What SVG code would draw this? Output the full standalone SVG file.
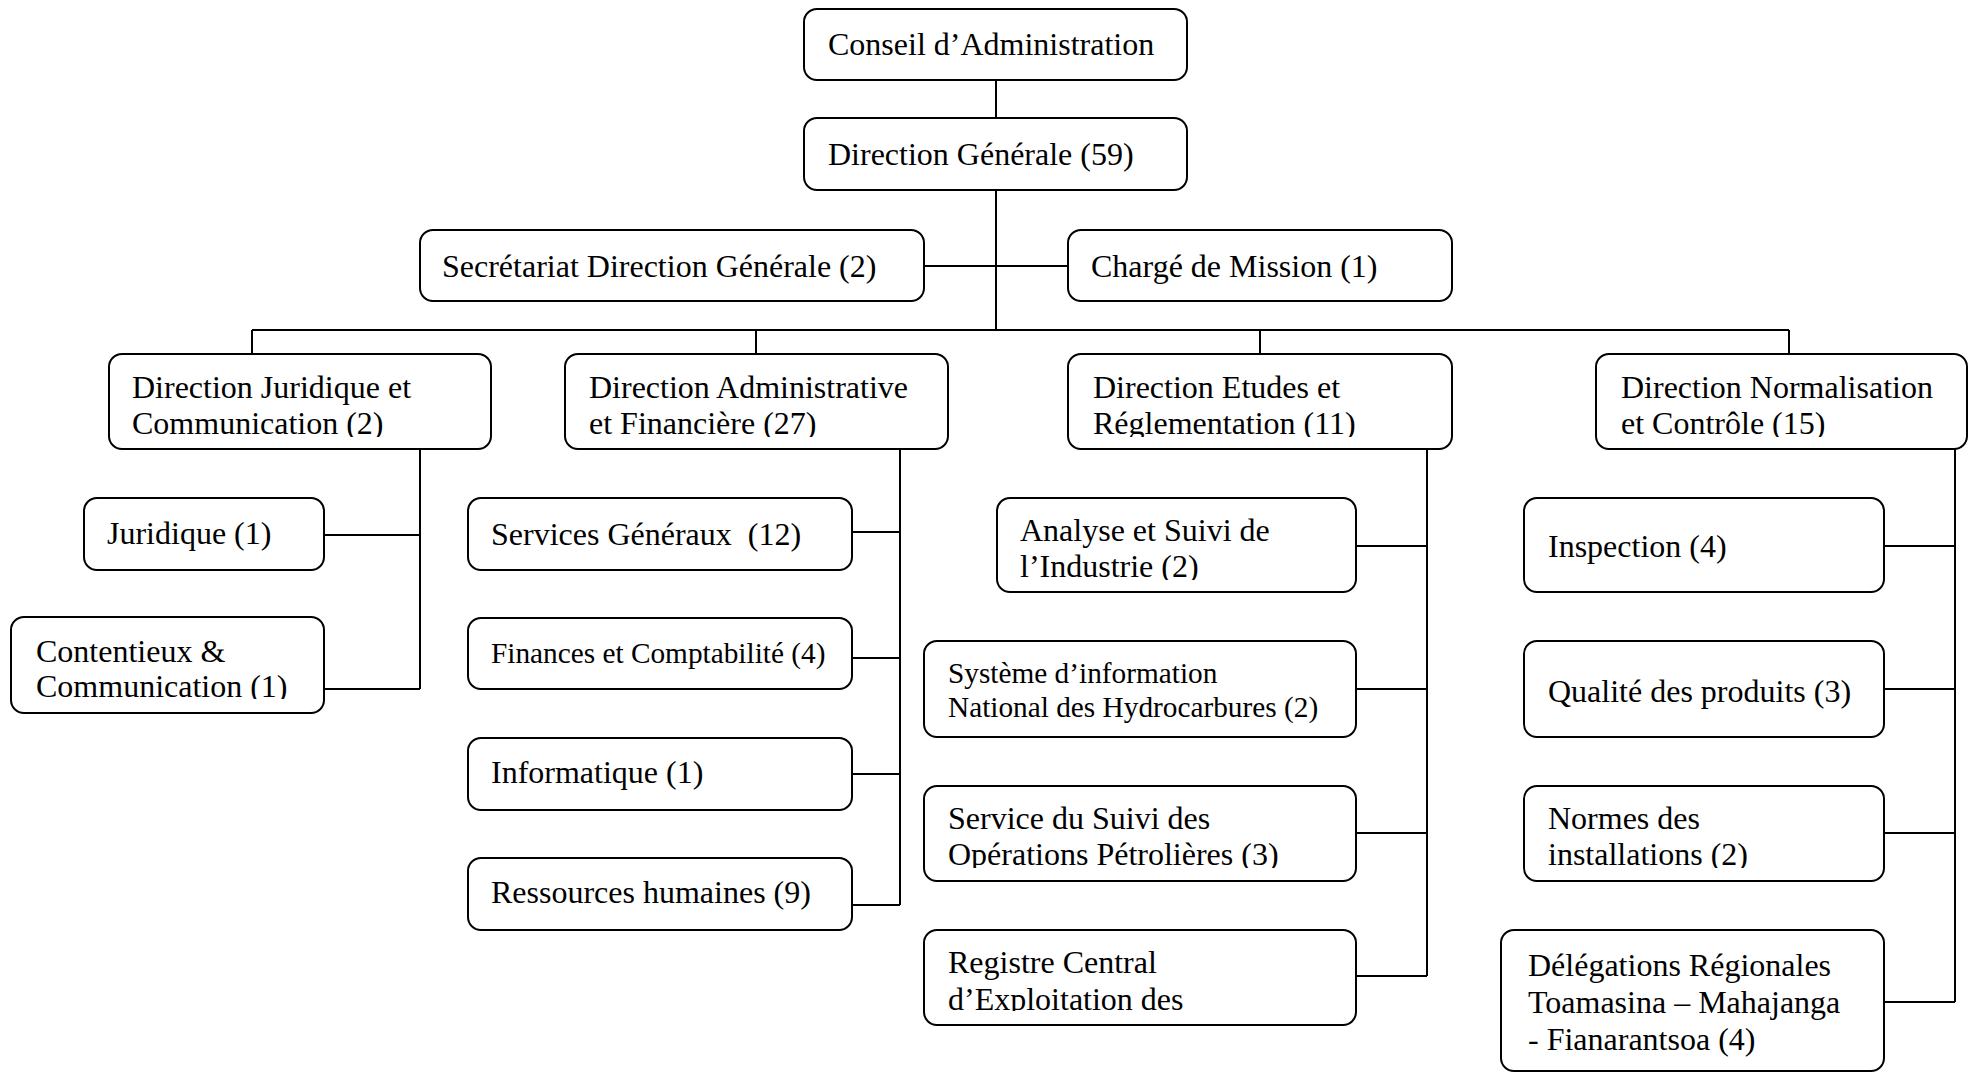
<svg xmlns="http://www.w3.org/2000/svg" width="1968" height="1072" viewBox="0 0 1968 1072">
<style>
  .box{fill:#fff;stroke:#000;stroke-width:2}
  .t{font-family:"Liberation Serif","Times New Roman",serif;font-size:32px;fill:#000}
  .s{font-size:29.3px}
  .c{stroke:#000;stroke-width:2;fill:none}
</style>
<defs>
  <clipPath id="cDJ"><rect x="109" y="354" width="382" height="83"/></clipPath>
  <clipPath id="cDA"><rect x="565" y="354" width="383" height="83"/></clipPath>
  <clipPath id="cDE"><rect x="1068" y="354" width="384" height="83"/></clipPath>
  <clipPath id="cDN"><rect x="1596" y="354" width="372" height="83"/></clipPath>
  <clipPath id="cCo"><rect x="11" y="617" width="313" height="82"/></clipPath>
  <clipPath id="cAn"><rect x="997" y="498" width="359" height="82"/></clipPath>
  <clipPath id="cSu"><rect x="924" y="786" width="432" height="82"/></clipPath>
  <clipPath id="cRe"><rect x="924" y="930" width="432" height="81"/></clipPath>
  <clipPath id="cNo"><rect x="1524" y="786" width="360" height="82"/></clipPath>
</defs>
<g id="connectors">
  <path class="c" d="M996 80V118"/>
  <path class="c" d="M996 190V330"/>
  <path class="c" d="M924 266H1068"/>
  <path class="c" d="M252 330H1789"/>
  <path class="c" d="M252 330V354M756 330V354M1260 330V354M1789 330V354"/>
  <path class="c" d="M420 449V689M324 535H420M324 689H420"/>
  <path class="c" d="M900 449V905M852 532H900M852 658H900M852 774H900M852 905H900"/>
  <path class="c" d="M1427 449V976M1356 546H1427M1356 689H1427M1356 833H1427M1356 976H1427"/>
  <path class="c" d="M1955 449V1002M1884 546H1955M1884 689H1955M1884 833H1955M1884 1002H1955"/>
</g>
<g id="conseil"><rect class="box" x="804" y="9" width="383" height="71" rx="13"/><text class="t" x="828" y="55">Conseil d’Administration</text></g>
<g id="direction-generale"><rect class="box" x="804" y="118" width="383" height="72" rx="13"/><text class="t" x="828" y="165">Direction Générale (59)</text></g>
<g id="secretariat"><rect class="box" x="420" y="230" width="504" height="71" rx="13"/><text class="t" x="442" y="277">Secrétariat Direction Générale (2)</text></g>
<g id="charge-mission"><rect class="box" x="1068" y="230" width="384" height="71" rx="13"/><text class="t" x="1091" y="277">Chargé de Mission (1)</text></g>
<g id="dir-juridique"><rect class="box" x="109" y="354" width="382" height="95" rx="13"/><text class="t" clip-path="url(#cDJ)"><tspan x="132" y="398">Direction Juridique et</tspan><tspan x="132" y="434">Communication (2)</tspan></text></g>
<g id="dir-admin"><rect class="box" x="565" y="354" width="383" height="95" rx="13"/><text class="t" clip-path="url(#cDA)"><tspan x="589" y="398">Direction Administrative</tspan><tspan x="589" y="434">et Financière (27)</tspan></text></g>
<g id="dir-etudes"><rect class="box" x="1068" y="354" width="384" height="95" rx="13"/><text class="t" clip-path="url(#cDE)"><tspan x="1093" y="398">Direction Etudes et</tspan><tspan x="1093" y="434">Réglementation (11)</tspan></text></g>
<g id="dir-normalisation"><rect class="box" x="1596" y="354" width="371" height="95" rx="13"/><text class="t" clip-path="url(#cDN)"><tspan x="1621" y="398">Direction Normalisation</tspan><tspan x="1621" y="434">et Contrôle (15)</tspan></text></g>
<g id="juridique"><rect class="box" x="84" y="498" width="240" height="72" rx="13"/><text class="t" x="107" y="544">Juridique (1)</text></g>
<g id="contentieux"><rect class="box" x="11" y="617" width="313" height="96" rx="13"/><text class="t" clip-path="url(#cCo)"><tspan x="36" y="662">Contentieux &amp;</tspan><tspan x="36" y="697">Communication (1)</tspan></text></g>
<g id="services-generaux"><rect class="box" x="468" y="498" width="384" height="72" rx="13"/><text class="t" x="491" y="545" xml:space="preserve">Services Généraux  (12)</text></g>
<g id="finances"><rect class="box" x="468" y="618" width="384" height="71" rx="13"/><text class="t s" x="491" y="663">Finances et Comptabilité (4)</text></g>
<g id="informatique"><rect class="box" x="468" y="738" width="384" height="72" rx="13"/><text class="t" x="491" y="783">Informatique (1)</text></g>
<g id="ressources"><rect class="box" x="468" y="858" width="384" height="72" rx="13"/><text class="t" x="491" y="903">Ressources humaines (9)</text></g>
<g id="analyse"><rect class="box" x="997" y="498" width="359" height="94" rx="13"/><text class="t" clip-path="url(#cAn)"><tspan x="1020" y="541">Analyse et Suivi de</tspan><tspan x="1020" y="577">l’Industrie (2)</tspan></text></g>
<g id="systeme"><rect class="box" x="924" y="641" width="432" height="96" rx="13"/><text class="t s"><tspan x="948" y="683">Système d’information</tspan><tspan x="948" y="717">National des Hydrocarbures (2)</tspan></text></g>
<g id="suivi-operations"><rect class="box" x="924" y="786" width="432" height="95" rx="13"/><text class="t" clip-path="url(#cSu)"><tspan x="948" y="829">Service du Suivi des</tspan><tspan x="948" y="865">Opérations Pétrolières (3)</tspan></text></g>
<g id="registre"><rect class="box" x="924" y="930" width="432" height="95" rx="13"/><text class="t" clip-path="url(#cRe)"><tspan x="948" y="973">Registre Central</tspan><tspan x="948" y="1010">d’Exploitation des</tspan></text></g>
<g id="inspection"><rect class="box" x="1524" y="498" width="360" height="94" rx="13"/><text class="t" x="1548" y="557">Inspection (4)</text></g>
<g id="qualite"><rect class="box" x="1524" y="641" width="360" height="96" rx="13"/><text class="t" x="1548" y="702">Qualité des produits (3)</text></g>
<g id="normes"><rect class="box" x="1524" y="786" width="360" height="95" rx="13"/><text class="t" clip-path="url(#cNo)"><tspan x="1548" y="829">Normes des</tspan><tspan x="1548" y="865">installations (2)</tspan></text></g>
<g id="delegations"><rect class="box" x="1501" y="930" width="383" height="141" rx="13"/><text class="t"><tspan x="1528" y="976">Délégations Régionales</tspan><tspan x="1528" y="1013">Toamasina – Mahajanga</tspan><tspan x="1528" y="1050">- Fianarantsoa (4)</tspan></text></g>
</svg>
